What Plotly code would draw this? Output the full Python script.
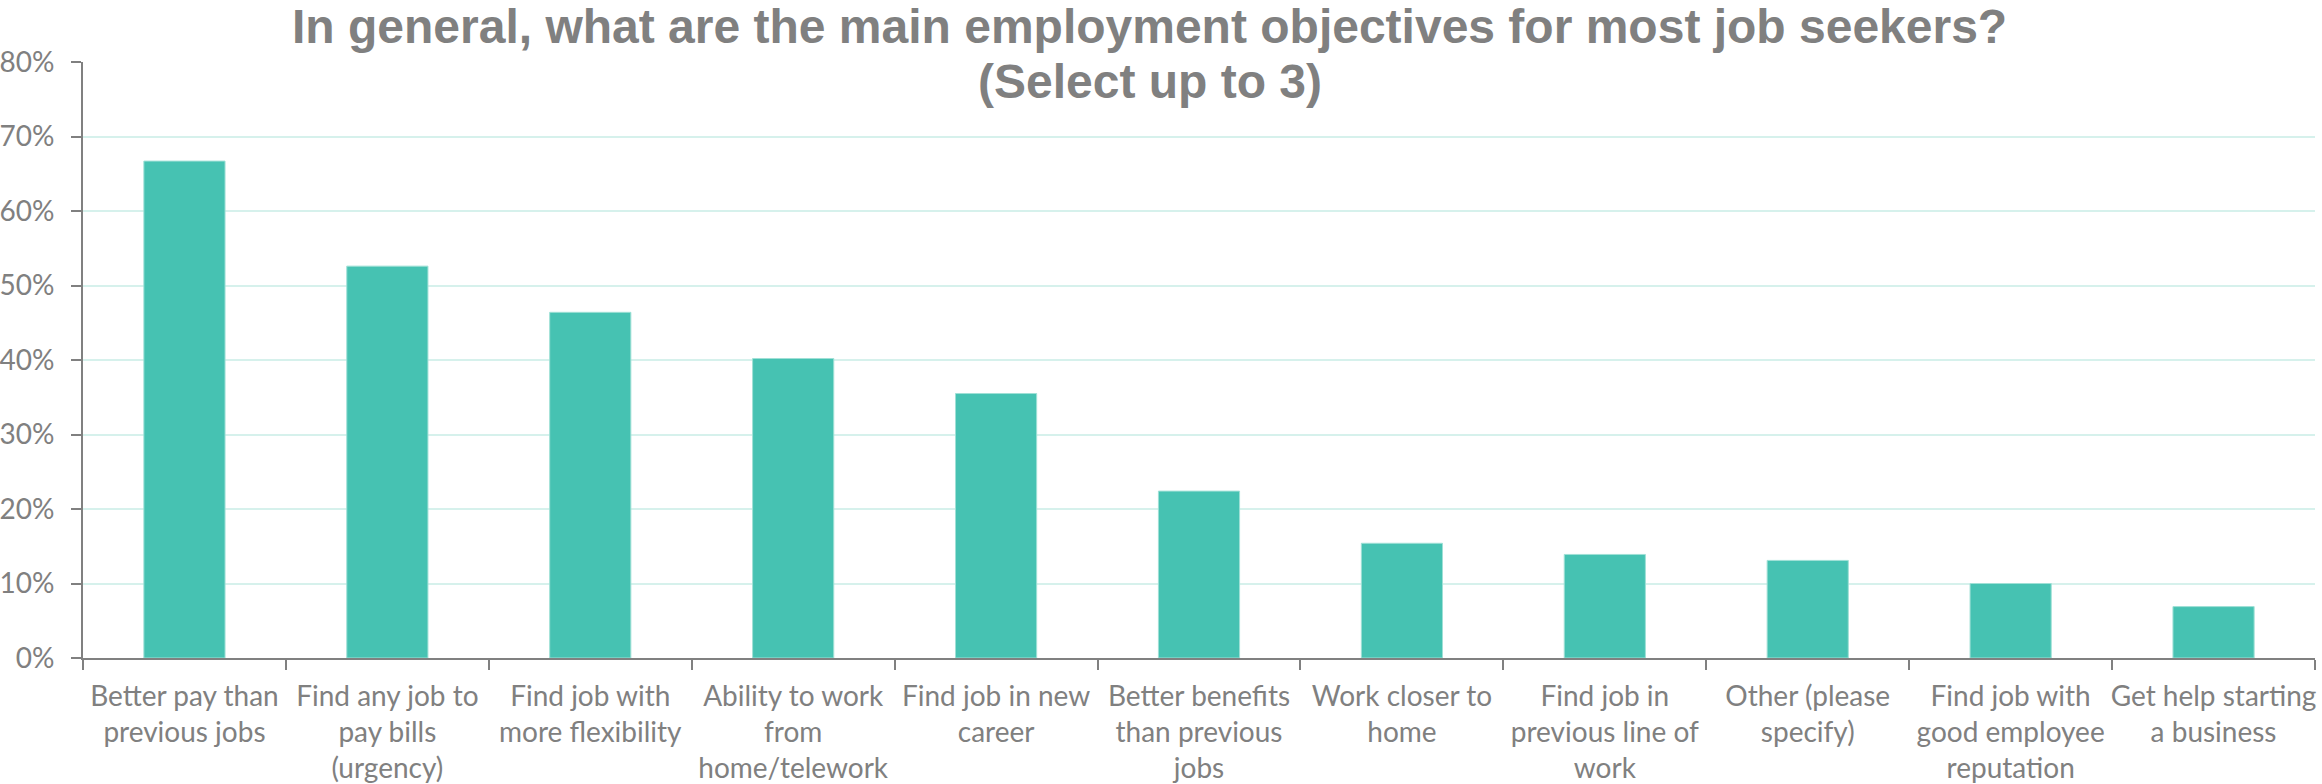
import plotly.graph_objects as go

# Survey answers (category labels wrapped as they appear under the axis)
categories = [
    "Better pay than<br>previous jobs",
    "Find any job to<br>pay bills<br>(urgency)",
    "Find job with<br>more flexibility",
    "Ability to work<br>from<br>home/telework",
    "Find job in new<br>career",
    "Better benefits<br>than previous<br>jobs",
    "Work closer to<br>home",
    "Find job in<br>previous line of<br>work",
    "Other (please<br>specify)",
    "Find job with<br>good employee<br>reputation",
    "Get help starting<br>a business",
]
share = [0.667, 0.526, 0.464, 0.402, 0.355, 0.224, 0.154, 0.139, 0.131, 0.100, 0.069]

y_ticks = [0, 0.1, 0.2, 0.3, 0.4, 0.5, 0.6, 0.7, 0.8]

title_lines = [
    "In general, what are the main employment objectives for most job seekers?",
    "(Select up to 3)",
]

TEAL = "#46C2B2"
GREY = "#808080"
LABEL_FONT = dict(family="Lato, Carlito, Calibri, sans-serif", size=28, color=GREY)
TITLE_FONT = dict(family="Liberation Sans, Arial, sans-serif", size=48, color=GREY, weight="bold")

fig = go.Figure(
    go.Bar(
        x=categories,
        y=share,
        marker=dict(color=TEAL, line=dict(color="#9fe0d6", width=1)),
        hoverinfo="x+y",
    )
)

# two-line title, each line placed on its own for tight line spacing
title_y = [1.06, 0.967]
fig.update_layout(
    width=2322,
    height=784,
    paper_bgcolor="white",
    plot_bgcolor="white",
    margin=dict(l=83, r=7, t=62, b=126),
    bargap=0.6,
    showlegend=False,
    annotations=[
        dict(
            text=line,
            xref="paper",
            yref="paper",
            x=0.478,
            y=yy,
            xanchor="center",
            yanchor="middle",
            showarrow=False,
            font=TITLE_FONT,
        )
        for line, yy in zip(title_lines, title_y)
    ],
)

fig.update_xaxes(
    showgrid=False,
    showline=True,
    linecolor=GREY,
    linewidth=2,
    ticks="outside",
    tickson="boundaries",
    ticklen=10,
    tickwidth=2,
    tickcolor=GREY,
    tickfont=LABEL_FONT,
    tickangle=0,
    ticklabelstandoff=12,
    automargin=False,
)

fig.update_yaxes(
    range=[0, 0.8],
    tickvals=y_ticks,
    tickformat=".0%",
    showgrid=True,
    gridcolor="#d6f1ec",
    gridwidth=2,
    zeroline=False,
    showline=True,
    linecolor=GREY,
    linewidth=2,
    ticks="outside",
    ticklen=10,
    tickwidth=2,
    tickcolor=GREY,
    tickfont=LABEL_FONT,
    ticklabelstandoff=11,
    automargin=False,
)

fig.write_html("out.html")
